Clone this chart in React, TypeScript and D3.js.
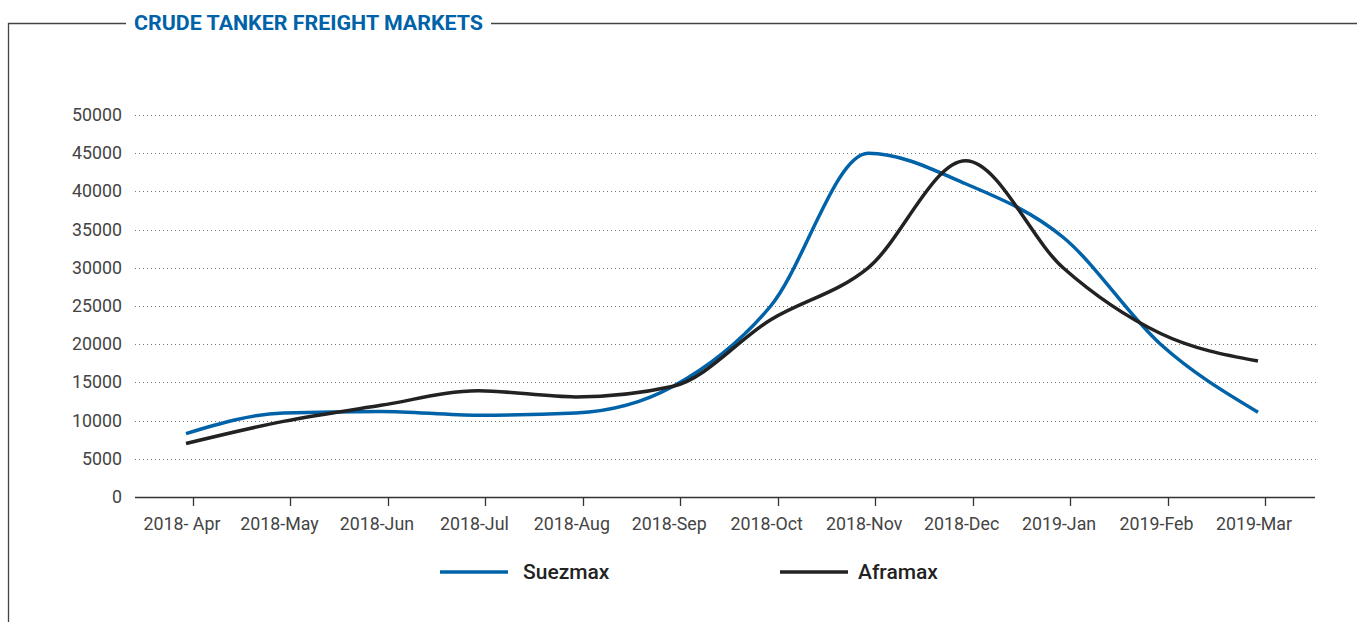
import * as d3 from "d3";
import { useEffect, useRef } from "react";

// monthly averages, USD/day
const months = [
  "2018- Apr", "2018-May", "2018-Jun", "2018-Jul", "2018-Aug", "2018-Sep",
  "2018-Oct", "2018-Nov", "2018-Dec", "2019-Jan", "2019-Feb", "2019-Mar",
];
const suezmax = [8300, 11000, 11200, 10700, 11000, 14500, 25000, 45000, 41000, 34000, 20000, 11100];
const aframax = [7000, 9900, 12000, 13900, 13100, 14500, 23200, 30000, 44000, 30000, 21400, 17800];
const yTicks = [0, 5000, 10000, 15000, 20000, 25000, 30000, 35000, 40000, 45000, 50000];

const W = 1357;
const H = 622;
const BLUE = "#0062a8";
const DARK = "#222222";

export default function App() {
  const ref = useRef<SVGSVGElement>(null);

  useEffect(() => {
    const svg = d3.select(ref.current);
    svg.selectAll("*").remove();

    const x = d3.scalePoint<string>().domain(months).range([186, 1258]);
    const y = d3.scaleLinear().domain([0, 50000]).range([497, 115]);

    // frame around the chart
    const frame = svg.append("g").attr("stroke", "#444").attr("stroke-width", 1.3).attr("fill", "none");
    frame.append("path").attr("d", "M8.5,622 L8.5,23.5 L126,23.5");
    frame.append("path").attr("d", "M491,23.5 L1357,23.5");

    svg.append("text")
      .attr("x", 134)
      .attr("y", 30)
      .attr("font-family", "Roboto")
      .attr("font-weight", 700)
      .attr("font-size", 21)
      .attr("fill", BLUE)
      .attr("textLength", 349)
      .attr("lengthAdjust", "spacingAndGlyphs")
      .text("CRUDE TANKER FREIGHT MARKETS");

    // grid
    svg.append("g")
      .selectAll("line")
      .data(yTicks.filter((d) => d > 0))
      .join("line")
      .attr("x1", 135)
      .attr("x2", 1316)
      .attr("y1", (d) => Math.round(y(d)) + 0.5)
      .attr("y2", (d) => Math.round(y(d)) + 0.5)
      .attr("stroke", "#777")
      .attr("stroke-width", 1)
      .attr("stroke-dasharray", "1,3");

    svg.append("g")
      .selectAll("text")
      .data(yTicks)
      .join("text")
      .attr("x", 122)
      .attr("y", (d) => y(d) + 6)
      .attr("text-anchor", "end")
      .attr("font-family", "Roboto")
      .attr("font-size", 17.8)
      .attr("fill", "#444")
      .text((d) => d);

    // x axis
    const xa = svg.append("g");
    xa.append("line")
      .attr("x1", 135).attr("x2", 1315)
      .attr("y1", 497.5).attr("y2", 497.5)
      .attr("stroke", "#333").attr("stroke-width", 1.3);
    xa.selectAll("line.tick")
      .data(months)
      .join("line")
      .attr("class", "tick")
      .attr("x1", (d) => Math.round(x(d)! + 7) + 0.5)
      .attr("x2", (d) => Math.round(x(d)! + 7) + 0.5)
      .attr("y1", 497)
      .attr("y2", 506)
      .attr("stroke", "#333")
      .attr("stroke-width", 1.3);
    xa.selectAll("text")
      .data(months)
      .join("text")
      .attr("x", (d) => x(d)! - 4)
      .attr("y", 530)
      .attr("text-anchor", "middle")
      .attr("font-family", "Roboto")
      .attr("font-size", 17.8)
      .attr("fill", "#444")
      .text((d) => d);

    const line = d3
      .line<number>()
      .x((_, i) => x(months[i])!)
      .y((d) => y(d))
      .curve(d3.curveMonotoneX);

    svg.append("path")
      .attr("d", line(suezmax))
      .attr("fill", "none")
      .attr("stroke", BLUE)
      .attr("stroke-width", 3.5);
    svg.append("path")
      .attr("d", line(aframax))
      .attr("fill", "none")
      .attr("stroke", DARK)
      .attr("stroke-width", 3.5);

    // legend
    const legend = [
      { name: "Suezmax", color: BLUE, x: 440, tx: 523 },
      { name: "Aframax", color: DARK, x: 780, tx: 858 },
    ];
    const lg = svg.append("g").selectAll("g").data(legend).join("g");
    lg.append("line")
      .attr("x1", (d) => d.x)
      .attr("x2", (d) => d.x + 68)
      .attr("y1", 572)
      .attr("y2", 572)
      .attr("stroke", (d) => d.color)
      .attr("stroke-width", 3.5);
    lg.append("text")
      .attr("x", (d) => d.tx)
      .attr("y", 579)
      .attr("font-family", "Roboto")
      .attr("font-weight", 500)
      .attr("font-size", 21)
      .attr("fill", "#222")
      .text((d) => d.name);
  }, []);

  return (
    <svg
      ref={ref}
      width={W}
      height={H}
      style={{ position: "absolute", left: 0, top: 0, background: "#fff" }}
    />
  );
}
